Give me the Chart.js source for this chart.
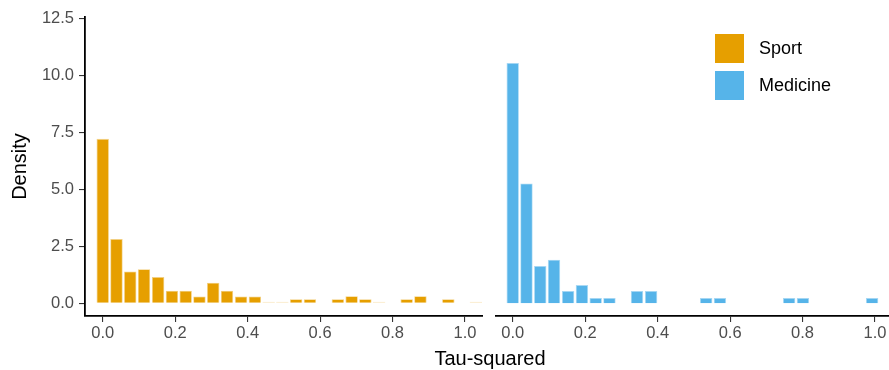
<!DOCTYPE html>
<html lang="en">
<head>
    <meta charset="UTF-8">
    <title>Tau-squared histogram</title>
    <script src="https://cdn.jsdelivr.net/npm/chart.js"></script>
    <style>
        html, body { margin: 0; padding: 0; background: #fff; overflow: hidden; }
        body { width: 889px; height: 370px; position: relative; font-family: "Liberation Sans", Arial, sans-serif; }
        #sportChart { position: absolute; left: 0; top: 0; }
        #medicineChart { position: absolute; left: 495px; top: 0; }
        #xTitle {
            position: absolute; left: 85px; width: 810px; top: 346px;
            text-align: center; font-size: 20px; line-height: 24px; color: #000;
        }
        .legend-row { position: absolute; left: 714px; height: 31px; }
        .legend-key { position: absolute; left: 0; top: 0; width: 29px; height: 29px; border: 1px solid #fff; }
        .legend-label { position: absolute; left: 45px; top: 0; line-height: 31px; font-size: 18px; color: #000; white-space: nowrap; }
    </style>
</head>
<body>
    <canvas id="sportChart" width="483" height="370"></canvas>
    <canvas id="medicineChart" width="394" height="370"></canvas>
    <div id="xTitle">Tau-squared</div>
    <div id="legend"></div>

    <script>
        // bin centres shared by both facets
        const binCenters = [0.000, 0.038, 0.076, 0.114, 0.153, 0.191, 0.229, 0.267, 0.305, 0.343,
                            0.382, 0.420, 0.458, 0.496, 0.534, 0.572, 0.610, 0.649, 0.687, 0.725,
                            0.763, 0.801, 0.839, 0.877, 0.916, 0.954, 0.992, 1.030];
        const sportDensity = [7.22, 2.82, 1.40, 1.50, 1.15, 0.55, 0.55, 0.30, 0.90, 0.55,
                              0.30, 0.30, 0.07, 0.07, 0.18, 0.18, 0, 0.18, 0.31, 0.18,
                              0.07, 0, 0.18, 0.31, 0, 0.18, 0, 0.07];
        const medicineDensity = [10.55, 5.26, 1.64, 1.91, 0.54, 0.80, 0.23, 0.23, 0, 0.54,
                                 0.54, 0, 0, 0, 0.23, 0.23, 0, 0, 0, 0,
                                 0.23, 0.23, 0, 0, 0, 0, 0.23];
        const seriesNames = ['Sport', 'Medicine'];
        const seriesColors = ['#E69F00', '#56B4E9'];
        const seriesEdges = ['#F2CF80', '#AAD9F4'];
        const faintFill = ['#F7DFAA', '#CFE9F8'];
        const xTicks = [0, 0.2, 0.4, 0.6, 0.8, 1.0];
        const yTicks = [0, 2.5, 5, 7.5, 10, 12.5];

        const tickFont = { family: '"Liberation Sans", Arial, sans-serif', size: 16.5 };

        function makeChart(id, values, idx, showY, xMin, xMax) {
            const points = values.map((v, i) => ({ x: binCenters[i], y: v }));
            return new Chart(document.getElementById(id), {
                type: 'bar',
                data: {
                    datasets: [{
                        label: seriesNames[idx],
                        data: points,
                        backgroundColor: ctx => (ctx.raw && ctx.raw.y < 0.1) ? faintFill[idx] : seriesColors[idx],
                        borderColor: ctx => (ctx.raw && ctx.raw.y < 0.1) ? faintFill[idx] : seriesEdges[idx],
                        borderWidth: 0.8,
                        borderSkipped: 'start',
                        barPercentage: 0.9,
                        categoryPercentage: 1.0
                    }]
                },
                options: {
                    responsive: false,
                    animation: false,
                    layout: { padding: { top: 17, left: 0, right: 0, bottom: 0 } },
                    plugins: { legend: { display: false }, tooltip: { enabled: false } },
                    scales: {
                        x: {
                            type: 'linear',
                            offset: false,
                            min: xMin,
                            max: xMax,
                            afterBuildTicks: s => { s.ticks = xTicks.map(v => ({ value: v })); },
                            afterFit: s => { s.height = 54; },
                            ticks: {
                                color: '#4D4D4D',
                                font: tickFont,
                                padding: 2,
                                maxRotation: 0,
                                autoSkip: false,
                                callback: v => Number(v).toFixed(1)
                            },
                            grid: { offset: false, drawOnChartArea: false, drawTicks: true, tickLength: 6, color: '#333333', lineWidth: 1.1 },
                            border: { display: true, color: '#000000', width: 1.8 }
                        },
                        y: {
                            display: showY,
                            min: -0.557,
                            max: 12.57,
                            afterBuildTicks: s => { s.ticks = yTicks.map(v => ({ value: v })); },
                            afterFit: s => { s.width = showY ? 85 : 0; },
                            ticks: {
                                color: '#4D4D4D',
                                font: tickFont,
                                padding: 5,
                                callback: v => Number(v).toFixed(1)
                            },
                            grid: { drawOnChartArea: false, drawTicks: true, tickLength: 6, color: '#333333', lineWidth: 1.1 },
                            border: { display: true, color: '#000000', width: 1.8 },
                            title: {
                                display: true,
                                text: 'Density',
                                color: '#000000',
                                font: { family: '"Liberation Sans", Arial, sans-serif', size: 20 },
                                padding: { top: 8, bottom: 0 }
                            }
                        }
                    }
                }
            });
        }

        makeChart('sportChart', sportDensity, 0, true, -0.0489, 1.0497);
        makeChart('medicineChart', medicineDensity, 1, false, -0.0489, 1.0386);

        // legend drawn in the medicine panel, top right
        const legend = document.getElementById('legend');
        seriesNames.forEach((name, i) => {
            const row = document.createElement('div');
            row.className = 'legend-row';
            row.style.top = (33 + i * 37) + 'px';
            row.innerHTML = '<div class="legend-key" style="background:' + seriesColors[i] + '"></div>' +
                            '<div class="legend-label">' + name + '</div>';
            legend.appendChild(row);
        });
    </script>
</body>
</html>
